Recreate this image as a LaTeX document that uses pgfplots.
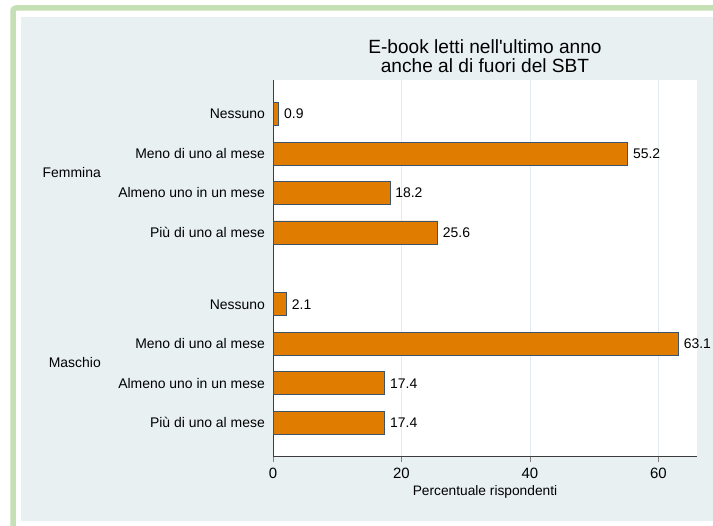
\documentclass[border=0pt]{standalone}
\usepackage{fontspec}
\setmainfont{Liberation Sans}
\usepackage{pgfplots}
\pgfplotsset{compat=1.18}
\usepackage{pgfplotstable}
\definecolor{framegreen}{RGB}{197,224,180}
\definecolor{bgblue}{RGB}{232,240,242}
\definecolor{barfill}{RGB}{224,124,0}
\definecolor{baredge}{RGB}{60,85,110}
\definecolor{axisgray}{RGB}{60,60,60}
\definecolor{gridc}{RGB}{228,238,240}
\pgfplotstableread{
pos val
0    0.9
1    55.2
2    18.2
3    25.6
4.82 2.1
5.82 63.1
6.82 17.4
7.82 17.4
}\datatab
\begin{document}
\begin{tikzpicture}[x=1bp,y=1bp]
\clip (0,0) rectangle (713,526);
\useasboundingbox (0,0) rectangle (713,526);
\fill[white] (0,0) rectangle (713,526);
\draw[framegreen, line width=5.5bp, rounded corners=3bp] (13,-20) -- (13,518) -- (740,518);
\fill[bgblue] (21,5) rectangle (740,509);
\begin{axis}[
  at={(273bp,70bp)}, anchor=south west,
  scale only axis, width=424bp, height=376bp,
  xmin=0, xmax=66, ymin=-0.86, ymax=8.66,
  y dir=reverse,
  axis background/.style={fill=white},
  axis x line*=bottom, axis y line*=left,
  axis line style={axisgray, line width=0.9bp},
  xtick={0,20,40,60},
  xmajorgrids, grid style={gridc, line width=0.8bp},
  tick align=outside,
  x tick style={gray, line width=0.9bp},
  major tick length=6bp,
  ytick={0,1,2,3,4.82,5.82,6.82,7.82},
  yticklabels={Nessuno,Meno di uno al mese,Almeno uno in un mese,Più di uno al mese,Nessuno,Meno di uno al mese,Almeno uno in un mese,Più di uno al mese},
  y tick style={draw=none},
  /pgf/number format/assume math mode=true,
  xticklabel style={font=\fontsize{15}{15}\selectfont, inner sep=0pt, yshift=-6bp},
  yticklabel style={font=\fontsize{14}{14}\selectfont, inner sep=0pt, xshift=-2bp},
  xlabel={Percentuale rispondenti},
  xlabel style={font=\fontsize{13.8}{14}\selectfont, inner sep=0pt, at={(axis description cs:0.5,0)}, anchor=center, yshift=-36bp},
  xbar, bar width=0.58,
  nodes near coords={\pgfmathprintnumber[fixed,fixed zerofill,precision=1]{\pgfplotspointmeta}},
  nodes near coords style={font=\fontsize{14}{14}\selectfont, anchor=west, inner sep=0pt, xshift=5bp, text=black},
  clip=false,
]
\addplot[fill=barfill, draw=baredge, line width=0.8bp] table[x=val, y=pos] {\datatab};
\end{axis}
\node[anchor=east, inner sep=0pt, font=\fontsize{14}{14}\selectfont] at (101,353) {Femmina};
\node[anchor=east, inner sep=0pt, font=\fontsize{14}{14}\selectfont] at (101,163) {Maschio};
\node[align=center, inner sep=0pt, font=\fontsize{19.2}{18.5}\selectfont] at (485,470) {E-book letti nell\textquotesingle ultimo anno\\anche al di fuori del SBT};
\end{tikzpicture}
\end{document}
